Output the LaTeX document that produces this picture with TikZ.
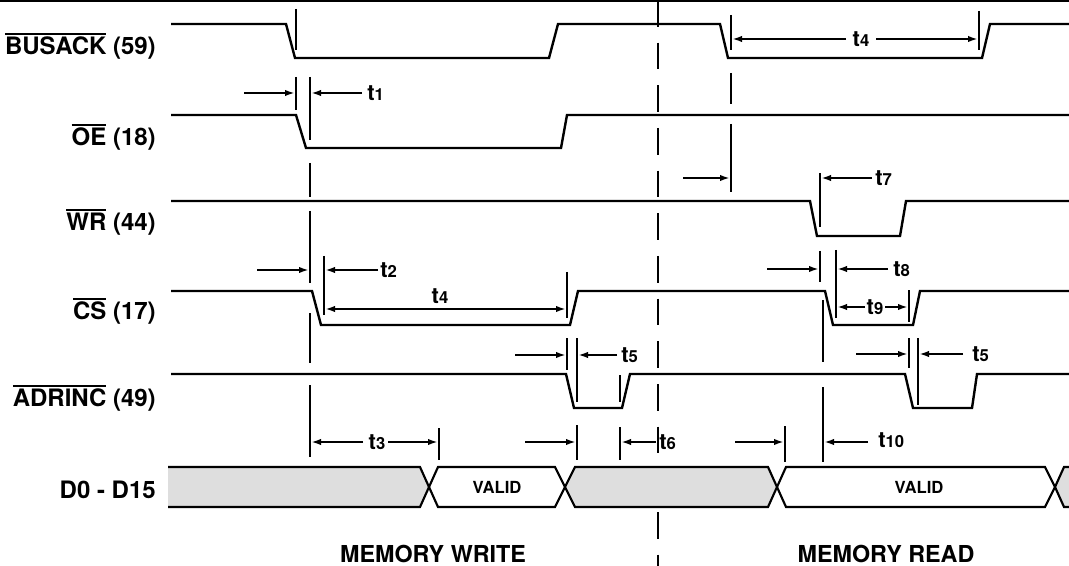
\documentclass[tikz,border=0pt]{standalone}
\usepackage{fontspec}
\setmainfont{TeX Gyre Heros}
\usetikzlibrary{arrows.meta}
\newcommand\ovl[1]{\leavevmode\vbox{\hrule height 1.4pt\kern 1.6pt\hbox{#1}}}
\newcommand\tlab[1]{{\fontsize{16.5}{18}\selectfont t\fontsize{12.5}{14}\selectfont #1}}
\begin{document}
\begin{tikzpicture}[x=0.75pt,y=-0.75pt,
  sig/.style={line width=1.8pt,line join=miter},
  mk/.style={line width=1.5pt},
  arr/.style={line width=1.5pt,-{Latex[length=7.5pt,width=4.8pt]}},
  lab/.style={anchor=east,font=\bfseries\fontsize{18}{21}\selectfont,inner sep=0pt},
  tl/.style={font=\bfseries,inner sep=0pt},
  bus/.style={line width=1.6pt,line join=miter},
  busg/.style={bus,fill=black!13},
  vl/.style={font=\bfseries\fontsize{12.5}{14}\selectfont,inner sep=0pt}]
\useasboundingbox (0,0) rectangle (1069,566);
\draw[line width=1.5pt] (0,1) -- (1069,1);
% dashed divider
\draw[line width=1.5pt,dash pattern=on 20pt off 12pt] (658,0) -- (658,566);
% labels
\node[lab] (lbusack) at (156,46) {\ovl{BUSACK} (59)};
\node[lab] (loe) at (156,137) {\ovl{OE} (18)};
\node[lab] (lwr) at (156,222) {\ovl{WR} (44)};
\node[lab] (lcs) at (156,311) {\ovl{CS} (17)};
\node[lab] (ladrinc) at (156,398) {\ovl{ADRINC} (49)};
\node[lab] (ldata) at (156,490) {D0 - D15};
\node[font=\bfseries\fontsize{17.5}{20}\selectfont,inner sep=0pt,anchor=base] (lmw) at (433,562) {MEMORY WRITE};
\node[font=\bfseries\fontsize{17.5}{20}\selectfont,inner sep=0pt,anchor=base] (lmr) at (886,562) {MEMORY READ};
% signals
\draw[sig] (171,24) -- (286,24) -- (295,58) -- (549,58) -- (558,24) -- (720,24) -- (728,58) -- (982,58) -- (990,24) -- (1069,24);
\draw[sig] (171,115) -- (296,115) -- (306,148) -- (561,148) -- (567,115) -- (1069,115);
\draw[sig] (171,201) -- (810,201) -- (817,236) -- (900,236) -- (906,201) -- (1069,201);
\draw[sig] (171,291) -- (312,291) -- (321,325) -- (570,325) -- (578,291) -- (825,291) -- (833,325) -- (913,325) -- (920,291) -- (1069,291);
\draw[sig] (171,374) -- (566,374) -- (574,408) -- (622,408) -- (630,374) -- (905,374) -- (913,408) -- (972,408) -- (977,374) -- (1069,374);
% data bus
\fill[black!13] (168,467) -- (420,467) -- (429,487) -- (420,507) -- (168,507) -- cycle;
\draw[bus] (168,467) -- (420,467) -- (429,487) -- (420,507) -- (168,507);
\draw[bus] (429,487) -- (438,467) -- (555,467) -- (565,487) -- (555,507) -- (438,507) -- cycle;
\draw[busg] (565,487) -- (575,467) -- (768,467) -- (777,487) -- (768,507) -- (575,507) -- cycle;
\draw[bus] (777,487) -- (786,467) -- (1045,467) -- (1055,487) -- (1045,507) -- (786,507) -- cycle;
\fill[black!13] (1055,487) -- (1064,467) -- (1069,467) -- (1069,507) -- (1064,507) -- cycle;
\draw[bus] (1069,467) -- (1064,467) -- (1055,487) -- (1064,507) -- (1069,507);
\node[vl] (v1) at (497,487) {VALID};
\node[vl] (v2) at (919,487) {VALID};
% markers
\draw[mk] (296,9) -- (296,50) (296,77) -- (296,110);
\draw[mk] (310,77) -- (310,140) (310,163) -- (310,197) (310,211) -- (310,283) (310,313) -- (310,363) (310,385) -- (310,457);
\draw[mk] (731,15) -- (731,50) (731,73) -- (731,104) (731,124) -- (731,192);
\draw[mk] (979,11) -- (979,50);
\draw[mk] (820,173) -- (820,227) (820,251) -- (820,282);
\draw[mk] (823,300) -- (823,362) (823,387) -- (823,462);
\draw[mk] (324,256) -- (324,315);
\draw[mk] (567,272) -- (567,318) (567,338) -- (567,370);
\draw[mk] (577,338) -- (577,402) (577,425) -- (577,460);
\draw[mk] (620,375) -- (620,402) (620,427) -- (620,460);
\draw[mk] (439,428) -- (439,460);
\draw[mk] (785,426) -- (785,462);
\draw[mk] (836,250) -- (836,318);
\draw[mk] (909,290) -- (909,322) (909,338) -- (909,368);
\draw[mk] (918,338) -- (918,405);
% arrows and time labels
\draw[arr] (244,93) -- (295,93);
\draw[arr] (362,93) -- (311,93);
\node[tl,anchor=west] (t1) at (367,93) {\tlab{1}};
\draw[arr] (846,39) -- (732,39);
\draw[arr] (876,39) -- (978,39);
\node[tl] (t4a) at (861,39) {\tlab{4}};
\draw[arr] (683,178) -- (730,178);
\draw[arr] (872,178) -- (821,178);
\node[tl,anchor=west] (t7) at (875,178) {\tlab{7}};
\draw[arr] (257,270) -- (309,270);
\draw[arr] (378,270) -- (325,270);
\node[tl,anchor=west] (t2) at (380,270) {\tlab{2}};
\draw[line width=1.5pt,{Latex[length=7.5pt,width=4.8pt]}-{Latex[length=7.5pt,width=4.8pt]}] (325,309) -- (566,309);
\node[tl] (t4b) at (440,296) {\tlab{4}};
\draw[arr] (515,355) -- (566,355);
\draw[arr] (617,355) -- (578,355);
\node[tl,anchor=west] (t5a) at (621,355) {\tlab{5}};
\draw[arr] (363,442) -- (311,442);
\draw[arr] (388,442) -- (438,442);
\node[tl] (t3) at (377,442) {\tlab{3}};
\draw[arr] (525,442) -- (576,442);
\draw[arr] (656,442) -- (621,442);
\node[tl,anchor=west] (t6) at (659,442) {\tlab{6}};
\draw[arr] (735,442) -- (784,442);
\draw[arr] (868,442) -- (824,442);
\node[tl,anchor=west] (t10) at (878,440) {\tlab{10}};
\draw[arr] (767,269) -- (819,269);
\draw[arr] (888,269) -- (837,269);
\node[tl,anchor=west] (t8) at (893,269) {\tlab{8}};
\draw[arr] (865,307) -- (837,307);
\draw[arr] (885,307) -- (908,307);
\node[tl] (t9) at (875,307) {\tlab{9}};
\draw[arr] (856,354) -- (908,354);
\draw[arr] (963,354) -- (919,354);
\node[tl,anchor=west] (t5b) at (972,354) {\tlab{5}};
\end{tikzpicture}
\end{document}
